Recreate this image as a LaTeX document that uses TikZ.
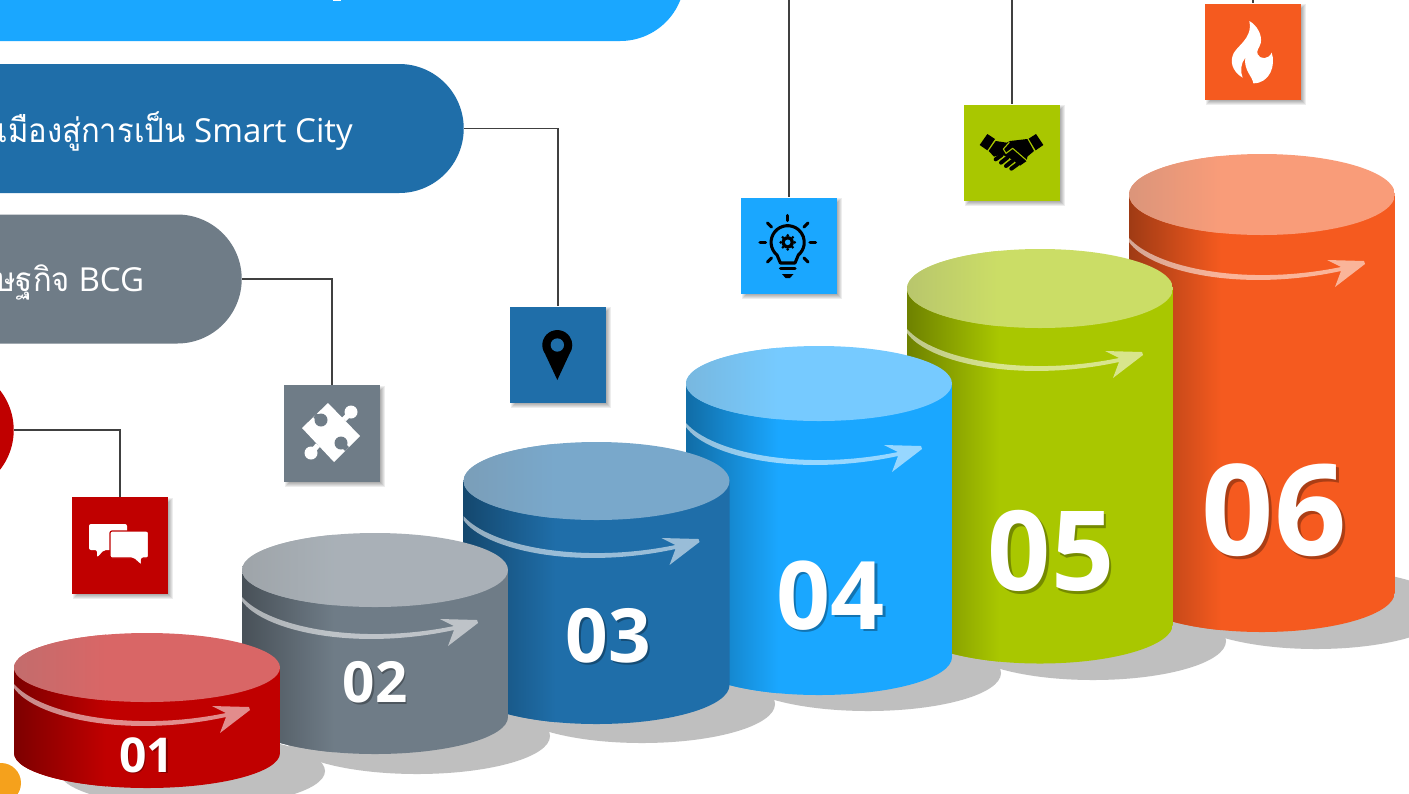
\documentclass[tikz,border=0pt]{standalone}
\usepackage{fontspec}
\setmainfont{Open Sans}
\newfontfamily\thaifont[Script=Thai,FakeStretch=0.93]{Loma}
\definecolor{cRed}{HTML}{C00000}
\definecolor{cGrey}{HTML}{6F7C87}
\definecolor{cBlue}{HTML}{1F6EA9}
\definecolor{cCyan}{HTML}{1AA7FF}
\definecolor{cGreen}{HTML}{A9C700}
\definecolor{cOrange}{HTML}{F55A1F}
\definecolor{cAmber}{HTML}{F5A11C}
\definecolor{cShadow}{HTML}{BFBFBF}
\definecolor{cLink}{HTML}{404040}
\tikzset{
  pill/.style={rectangle,rounded corners=48.4pt,minimum width=900pt,minimum height=96.75pt,inner sep=0,anchor=east},
  icon/.style={rectangle,minimum width=72pt,minimum height=72.5pt,inner sep=0},
  link/.style={draw=cLink,line width=.9pt},
  pilltext/.style={text=white,inner sep=0,anchor=base east},
  numtext/.style={text=white,inner sep=0},
  numshade/.style={text=black,opacity=.3,inner sep=0},
  glyph/.style={line cap=round,line join=round},
}
% soft shadow under an icon square centred at (#1,#2)
\newcommand{\softshadow}[2]{%
  \foreach \i in {4,3,2,1,0}{%
    \fill[black,opacity=.07] (#1+2.5-48+\i-2,#2+2.5-48.5+\i-2) rectangle (#1+2.5+48-\i+2,#2+2.5+48.5-\i+2);
  }%
}
% x0, top y, top ry, bottom y, bottom ry, colour, arrow tip y
\newcommand{\cylbody}[7]{%
  \colorlet{cTop}{#6!60!white}%
  \begin{scope}
    \clip (#1,#2) -- (#1,#4) arc[start angle=180,end angle=0,x radius=133,y radius=#5] -- (#1+266,#2) -- cycle;
    \fill[#6] (#1,#2-5) rectangle (#1+266,#4+#5+5);
    \shade[left color=#6!65!black,right color=#6] (#1,#2-5) rectangle (#1+92,#4+#5+5);
  \end{scope}
  \begin{scope}
    \clip (#1+133,#2) ellipse[x radius=133,y radius=#3];
    \fill[cTop] (#1,#2-#3-2) rectangle (#1+266,#2+#3+2);
    \shade[left color=cTop!75!gray,right color=cTop] (#1,#2-#3-2) rectangle (#1+92,#2+#3+2);
  \end{scope}
  \begin{scope}[shift={(#1,#7)}]
    \fill[white,opacity=.55,line join=round] (0,-21) .. controls (20,8) and (110,30) .. (212,8)
      -- (206,24) -- (236,1) -- (235,-2) -- (198,-3) -- (212,4)
      .. controls (115,24) and (25,4) .. (0,-25) -- cycle;
  \end{scope}
}
\begin{document}
\begin{tikzpicture}[x=.75pt,y=-.75pt]
\useasboundingbox (0,0) rectangle (1409,793);
\clip (0,0) rectangle (1409,793);
\fill[white] (0,0) rectangle (1409,793);

% cast shadows
\fill[cShadow] (192,771) ellipse[x radius=133,y radius=36];
\fill[cShadow] (417,736) ellipse[x radius=133,y radius=38];
\fill[cShadow] (642,704) ellipse[x radius=133,y radius=39];
\fill[cShadow] (868,673) ellipse[x radius=133,y radius=38];
\fill[cShadow] (1093,641) ellipse[x radius=133,y radius=39];
\fill[cShadow] (1316,609) ellipse[x radius=133,y radius=40];

% banners
\node[pill,fill=cCyan] (pillF) at (685,-23.5) {};
\node[pill,fill=cBlue] (pillC) at (464,128.5) {};
\node[pill,fill=cGrey] (pillB) at (242,279) {};
\node[pill,fill=cRed] (pillA) at (14,430) {};
\node[circle,fill=cAmber,minimum size=30pt,inner sep=0] (dotA) at (1,783) {};
\fill[white] (333,0) rectangle (341,1.2);

\node[pilltext,font=\fontsize{24.8}{28}\selectfont] (txtC) at (353,142) {{\fontsize{25}{28}\thaifont เมืองสู่การเป็น} Smart City};
\node[pilltext,font=\fontsize{24.8}{28}\selectfont] (txtB) at (144.5,291) {{\fontsize{25}{28}\thaifont ษฐกิจ} BCG};

% icon squares
\softshadow{120}{545.5}
\softshadow{332}{433.5}
\softshadow{558}{355}
\softshadow{789}{246}
\softshadow{1012}{153}
\softshadow{1253}{52}
\node[icon,fill=cRed] (sqA) at (120,545.5) {};
\node[icon,fill=cGrey] (sqB) at (332,433.5) {};
\node[icon,fill=cBlue] (sqC) at (558,355) {};
\node[icon,fill=cCyan] (sqD) at (789,246) {};
\node[icon,fill=cGreen] (sqE) at (1012,153) {};
\node[icon,fill=cOrange] (sqF) at (1253,52) {};

% connectors
\coordinate (endD) at (789,-1);
\coordinate (endE) at (1012,-1);
\coordinate (endF) at (1253,-1);
\draw[link] (pillA.east) -| (sqA.north);
\draw[link] (pillB.east) -| (sqB.north);
\draw[link] (pillC.east) -| (sqC.north);
\draw[link] (endD) -- (sqD.north);
\draw[link] (endE) -- (sqE.north);
\draw[link] (endF) -- (sqF.north);

% chat icon
\fill[white,rounded corners=1.5pt] (89,524) -- (127,524) -- (127,550) -- (104,550) -- (97,557.5) -- (97,550) -- (89,550) -- cycle;
\filldraw[fill=white,draw=cRed,line width=.9pt,rounded corners=1.5pt] (110,531) -- (148.5,531) -- (148.5,558) -- (141.5,558) -- (141.5,565.5) -- (133,558) -- (110,558) -- cycle;

% puzzle icon
\begin{scope}[white]
  \fill (302,428) -- (328,403) -- (360,436) -- (334,462) -- cycle;
  \fill (351,412) circle[radius=6.5];
  \fill (311,453) circle[radius=6.5];
  \draw[line width=4pt] (344,419.5) -- (351,412);
  \draw[line width=4pt] (318,445) -- (311,453);
\end{scope}
\fill[cGrey] (321,420) circle[radius=6.5];
\fill[cGrey] (341,443) circle[radius=6.5];
\draw[cGrey,line width=4pt] (315,415.5) -- (321,420);
\draw[cGrey,line width=4pt] (347,449) -- (341,443);

% pin icon
\begin{scope}[shift={(525,320)},scale=1/3]
  \fill[black] (97,180) -- (60,101) arc[start angle=145,end angle=395,radius=45] -- cycle;
  \fill[cBlue] (97,75) circle[radius=20];
\end{scope}

% bulb icon
\begin{scope}[glyph,black,line width=2.3pt]
  \draw (777,255) arc[start angle=130,end angle=410,radius=16.6] -- (795,263) -- (780.4,263) -- cycle;
  \draw (780.5,268.5) -- (795,268.5);
  \fill (782,274) -- (793.5,274) -- (790,278) -- (785.5,278) -- cycle;
  \draw (787.7,215.5) -- (787.7,220.5);
  \draw (760,242.3) -- (765.5,242.3);
  \draw (810,242.3) -- (815.5,242.3);
  \draw (767.5,223) -- (771.5,227);
  \draw (808,223) -- (804,227);
  \draw (767.5,262) -- (771.5,258);
  \draw (808,262) -- (804,258);
\end{scope}
\fill[black] (787.7,242.3) circle[radius=6.2];
\foreach \a in {0,45,...,315}{\fill[black] (787.7,242.3) ++(\a:7) circle[radius=1.5];}
\fill[cCyan] (787.7,242.3) circle[radius=2.8];

% handshake icon
\begin{scope}[shift={(970,125)},scale=1/3,line join=round]
  \fill[black] (52,27) -- (75,42) -- (52,76) -- (29,60) -- cycle;
  \fill[black] (198,27) -- (220,60) -- (197,76) -- (176,41) -- cycle;
  \fill[black] (77,48) -- (110,53) -- (120,48) -- (172,42) -- (192,78) -- (172,95) -- (170,108) -- (150,122) -- (120,100) -- (95,88) -- (72,95) -- (56,78) -- cycle;
  \draw[black,line width=3pt,line cap=round] (95,90) -- (77,103);
  \draw[black,line width=3pt,line cap=round] (112,98) -- (93,113);
  \draw[black,line width=3pt,line cap=round] (127,108) -- (108,123);
  \draw[black,line width=3pt,line cap=round] (142,118) -- (124,131);
  \draw[cGreen,line width=.8pt] (118,52) -- (100,72) -- (108,85) -- (128,70) -- (172,108);
\end{scope}

% flame icon
\begin{scope}[shift={(1220,15)},scale=1/3]
  \fill[white] (88,18) .. controls (110,30) and (128,60) .. (122,85) .. controls (118,100) and (108,105) .. (113,118)
    .. controls (120,133) and (145,135) .. (155,113) .. controls (168,150) and (150,205) .. (100,205)
    .. controls (98,185) and (70,165) .. (76,128) .. controls (62,145) and (60,170) .. (68,188)
    .. controls (45,175) and (30,150) .. (37,125) .. controls (42,95) and (100,75) .. (88,18) -- cycle;
\end{scope}

% cylinders, back to front
\cylbody{1129}{194.5}{40.5}{592}{40}{cOrange}{263}
\cylbody{907}{288.5}{39.5}{624}{39.5}{cGreen}{354}
\cylbody{686}{383.5}{37.5}{657}{38}{cCyan}{448}
\cylbody{463.5}{481}{39}{685}{39}{cBlue}{541}
\cylbody{242}{570}{37}{717}{37}{cGrey}{622}
\cylbody{14}{667.5}{34.5}{753}{35}{cRed}{709}

% numbers
\node[numshade,font=\bfseries\fontsize{95}{95}\selectfont] (shF) at (1277,513) {06};
\node[numtext,font=\bfseries\fontsize{95}{95}\selectfont] (numF) at (1274,510) {06};
\node[numshade,font=\bfseries\fontsize{83}{83}\selectfont] (shE) at (1053.5,553.5) {05};
\node[numtext,font=\bfseries\fontsize{83}{83}\selectfont] (numE) at (1051,551) {05};
\node[numshade,font=\bfseries\fontsize{71}{71}\selectfont] (shD) at (833,598) {04};
\node[numtext,font=\bfseries\fontsize{71}{71}\selectfont] (numD) at (830.5,596) {04};
\node[numshade,font=\bfseries\fontsize{56}{56}\selectfont] (shC) at (610.5,637.5) {03};
\node[numtext,font=\bfseries\fontsize{56}{56}\selectfont] (numC) at (608.5,635.5) {03};
\node[numshade,font=\bfseries\fontsize{42.5}{43}\selectfont] (shB) at (376.5,684) {02};
\node[numtext,font=\bfseries\fontsize{42.5}{43}\selectfont] (numB) at (375,682.5) {02};
\node[numshade,font=\bfseries\fontsize{36}{36}\selectfont] (shA) at (148,756.5) {01};
\node[numtext,font=\bfseries\fontsize{36}{36}\selectfont] (numA) at (146.5,755) {01};
\end{tikzpicture}
\end{document}
